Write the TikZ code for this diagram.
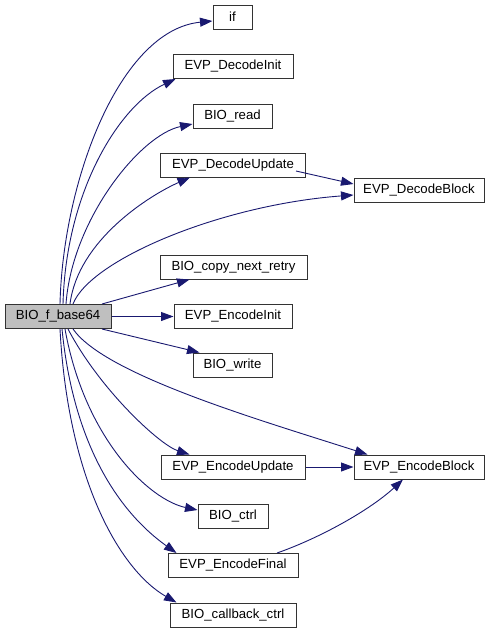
\documentclass[tikz,border=0pt]{standalone}
\usepackage{fontspec}
\setmainfont{Liberation Sans}
\usetikzlibrary{arrows.meta}
\definecolor{edgeblue}{HTML}{191970}
\definecolor{mainfill}{HTML}{BFBFBF}
\begin{document}
\begin{tikzpicture}[x=1pt,y=-1pt,
  fn/.style={draw=black!80,line width=1pt,minimum height=24pt,inner sep=0pt,font=\fontsize{13.2}{15}\selectfont,fill=white},
  call/.style={draw=edgeblue,line width=0.9pt,-{Triangle[length=12.5pt,width=9pt]}}]
\useasboundingbox (0,0) rectangle (494,633);
\node[fn,fill=mainfill,minimum width=106pt] (main) at (58,316.5) {BIO\_f\_base64};
\node[fn,minimum width=39pt]  (if) at (232.5,17) {if};
\node[fn,minimum width=120pt] (dinit) at (233,66.5) {EVP\_DecodeInit};
\node[fn,minimum width=79pt]  (bread) at (232.5,116) {BIO\_read};
\node[fn,minimum width=145pt] (dupd) at (233,165) {EVP\_DecodeUpdate};
\node[fn,minimum width=130pt] (dblk) at (419,190) {EVP\_DecodeBlock};
\node[fn,minimum width=147pt] (copy) at (233.5,267) {BIO\_copy\_next\_retry};
\node[fn,minimum width=118pt] (einit) at (233,316.5) {EVP\_EncodeInit};
\node[fn,minimum width=79pt]  (bwrite) at (232.5,365) {BIO\_write};
\node[fn,minimum width=144pt] (eupd) at (233,467) {EVP\_EncodeUpdate};
\node[fn,minimum width=130pt] (eblk) at (419,467) {EVP\_EncodeBlock};
\node[fn,minimum width=70pt]  (bctrl) at (233,516) {BIO\_ctrl};
\node[fn,minimum width=130pt] (efin) at (233,565.5) {EVP\_EncodeFinal};
\node[fn,minimum width=126pt] (bcb) at (233,615) {BIO\_callback\_ctrl};

\draw[call] ([xshift=2pt]main.north) .. controls (63,180) and (120,30) .. ([yshift=-4pt]if.west);
\draw[call] ([xshift=5pt]main.north) .. controls (66,190) and (120,105) .. ([xshift=3pt]dinit.south west);
\draw[call] ([xshift=8pt]main.north) .. controls (72,220) and (140,135) .. ([yshift=-8pt]bread.west);
\draw[call] ([xshift=12pt]main.north) .. controls (78,240) and (150,195) .. ([xshift=30pt]dupd.south west);
\draw[call] ([xshift=15pt]main.north) .. controls (90,260) and (220,205) .. ([yshift=-5pt]dblk.west);
\draw[call] ([xshift=-10pt,yshift=-6pt]dupd.east) -- ([yshift=6pt]dblk.west);
\draw[call] ([xshift=44pt]main.north) -- ([xshift=30pt]copy.south west);
\draw[call] (main.east) -- (einit.west);
\draw[call] ([xshift=44pt]main.south) -- ([xshift=7pt]bwrite.north west);
\draw[call] ([xshift=15pt]main.south) .. controls (105,375) and (260,420) .. ([xshift=14pt]eblk.north west);
\draw[call] ([xshift=10pt]main.south) .. controls (100,390) and (160,445) .. ([xshift=29pt]eupd.north west);
\draw[call] (eupd.east) -- (eblk.west);
\draw[call] ([xshift=7pt]main.south) .. controls (85,440) and (150,500) .. ([yshift=6pt]bctrl.west);
\draw[call] ([xshift=4pt]main.south) .. controls (75,460) and (130,520) .. ([xshift=9pt]efin.north west);
\draw[call] ([xshift=44pt]efin.north) .. controls (320,538) and (370,510) .. ([xshift=-16pt]eblk.south);
\draw[call] ([xshift=2pt]main.south) .. controls (68,480) and (120,570) .. ([xshift=7pt]bcb.north west);
\end{tikzpicture}
\end{document}
